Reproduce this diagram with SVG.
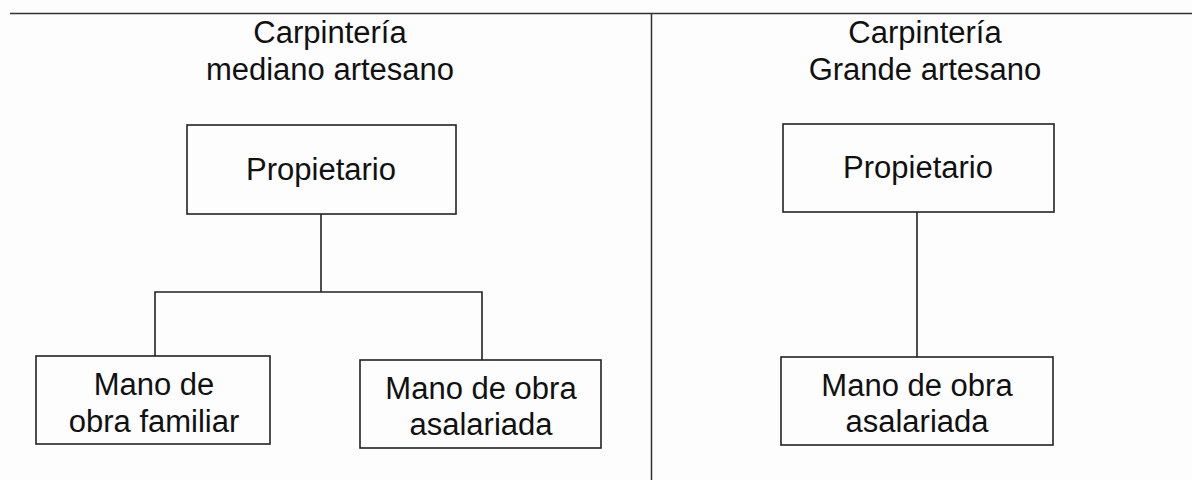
<svg xmlns="http://www.w3.org/2000/svg" width="1192" height="480" viewBox="0 0 1192 480">
<style>
  .bg { fill: #fdfdfd; }
  .frame { stroke: #333; stroke-width: 1.5; fill: none; }
  .box { fill: #fdfdfd; stroke: #222; stroke-width: 1.6; }
  .conn { stroke: #222; stroke-width: 1.6; fill: none; }
  text { font-family: "Liberation Sans", Arial, sans-serif; font-size: 31px; fill: #111; text-anchor: middle; }
</style>
<rect class="bg" x="0" y="0" width="1192" height="480"/>
<g id="frame">
  <line class="frame" x1="10" y1="13.5" x2="1192" y2="13.5"/>
  <line class="frame" x1="651.5" y1="13" x2="651.5" y2="480"/>
</g>
<g id="title-left">
  <text x="330" y="43">Carpintería</text>
  <text x="330" y="80">mediano artesano</text>
</g>
<g id="title-right">
  <text x="925" y="43">Carpintería</text>
  <text x="925" y="80">Grande artesano</text>
</g>
<g id="connectors">
  <polyline class="conn" points="321,214 321,292"/>
  <polyline class="conn" points="155,356 155,292 482,292 482,360"/>
  <polyline class="conn" points="917,212 917,357"/>
</g>
<g id="prop-left">
  <rect class="box" x="187" y="125" width="269" height="89"/>
  <text x="321" y="180">Propietario</text>
</g>
<g id="familiar-left">
  <rect class="box" x="36" y="356" width="234" height="88"/>
  <text x="154" y="395">Mano de</text>
  <text x="154" y="432">obra familiar</text>
</g>
<g id="asalariada-left">
  <rect class="box" x="360" y="360" width="241" height="88"/>
  <text x="481" y="399">Mano de obra</text>
  <text x="481" y="435">asalariada</text>
</g>
<g id="prop-right">
  <rect class="box" x="783" y="124" width="271" height="88"/>
  <text x="918" y="178">Propietario</text>
</g>
<g id="asalariada-right">
  <rect class="box" x="781" y="357" width="272" height="88"/>
  <text x="917" y="396">Mano de obra</text>
  <text x="917" y="432">asalariada</text>
</g>
</svg>
